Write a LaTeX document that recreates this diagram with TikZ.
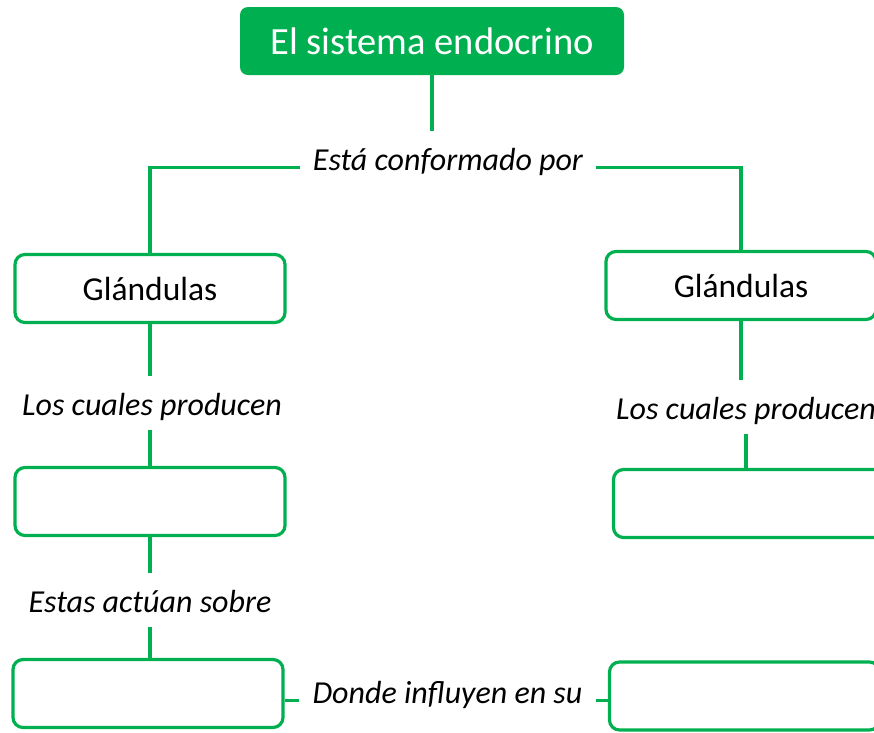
\documentclass[tikz,border=0pt]{standalone}
\usepackage{fontspec}
\setmainfont{Carlito}
\usepackage{tikz}
\definecolor{leaf}{HTML}{00B050}
\tikzset{
  head/.style={fill=leaf, rounded corners=8pt, text=white, minimum width=384pt, minimum height=68pt, inner sep=0pt, font=\fontsize{38.5}{44}\selectfont},
  card/.style={draw=leaf, line width=3.2pt, rounded corners=10pt, minimum width=270pt, minimum height=68pt, inner sep=0pt, font=\fontsize{33.5}{40}\selectfont},
  link/.style={draw=leaf, line width=3.2pt},
  cue/.style={font=\fontsize{32}{38}\selectfont\itshape, text height=24pt, text depth=0pt, inner xsep=13pt, inner ysep=15pt, anchor=base},
}

\begin{document}
\begin{tikzpicture}[x=1pt, y=-1pt]
  \useasboundingbox (0,0) rectangle (874,732);
  \fill[white] (0,0) rectangle (874,732);
  \clip (0,0) rectangle (874,732);
  % boxes
  \node[head] (title) at (432,41) {El sistema endocrino};
  \node[card] (g1) at (150,288.5) {Glándulas};
  \node[card] (g2) at (741,285.5) {Glándulas};
  \node[card] (e1) at (150,501.5) {};
  \node[card] (e2) at (748.5,503.5) {};
  \node[card] (b1) at (148,693.5) {};
  \node[card] (b2) at (744.5,696) {};
  % link texts
  \node[cue] (conf) at (448,170) {Está conformado por};
  \node[cue] (p1) at (152,415) {Los cuales producen};
  \node[cue] (p2) at (746,419) {Los cuales producen};
  \node[cue] (act) at (150,612) {Estas actúan sobre};
  \node[cue] (inf) at (447.5,703) {Donde influyen en su};
  % connectors
  \draw[link] (title.south) -- (title.south |- conf.north);
  \draw[link] (conf.mid west) -| (g1.north);
  \draw[link] (conf.mid east) -| (g2.north);
  \draw[link] (g1.south) -- (g1.south |- p1.north);
  \draw[link] (p1.south -| e1.north) -- (e1.north);
  \draw[link] (g2.south) -- (g2.south |- p2.north);
  \draw[link] (p2.south) -- (p2.south |- e2.north);
  \draw[link] (e1.south -| act.north) -- (act.north);
  \draw[link] (act.south) -- (act.south |- b1.north);
  \draw[link] (inf.mid west) -- (inf.mid west -| b1.east);
  \draw[link] (inf.mid east) -- (inf.mid east -| b2.west);
\end{tikzpicture}
\end{document}
